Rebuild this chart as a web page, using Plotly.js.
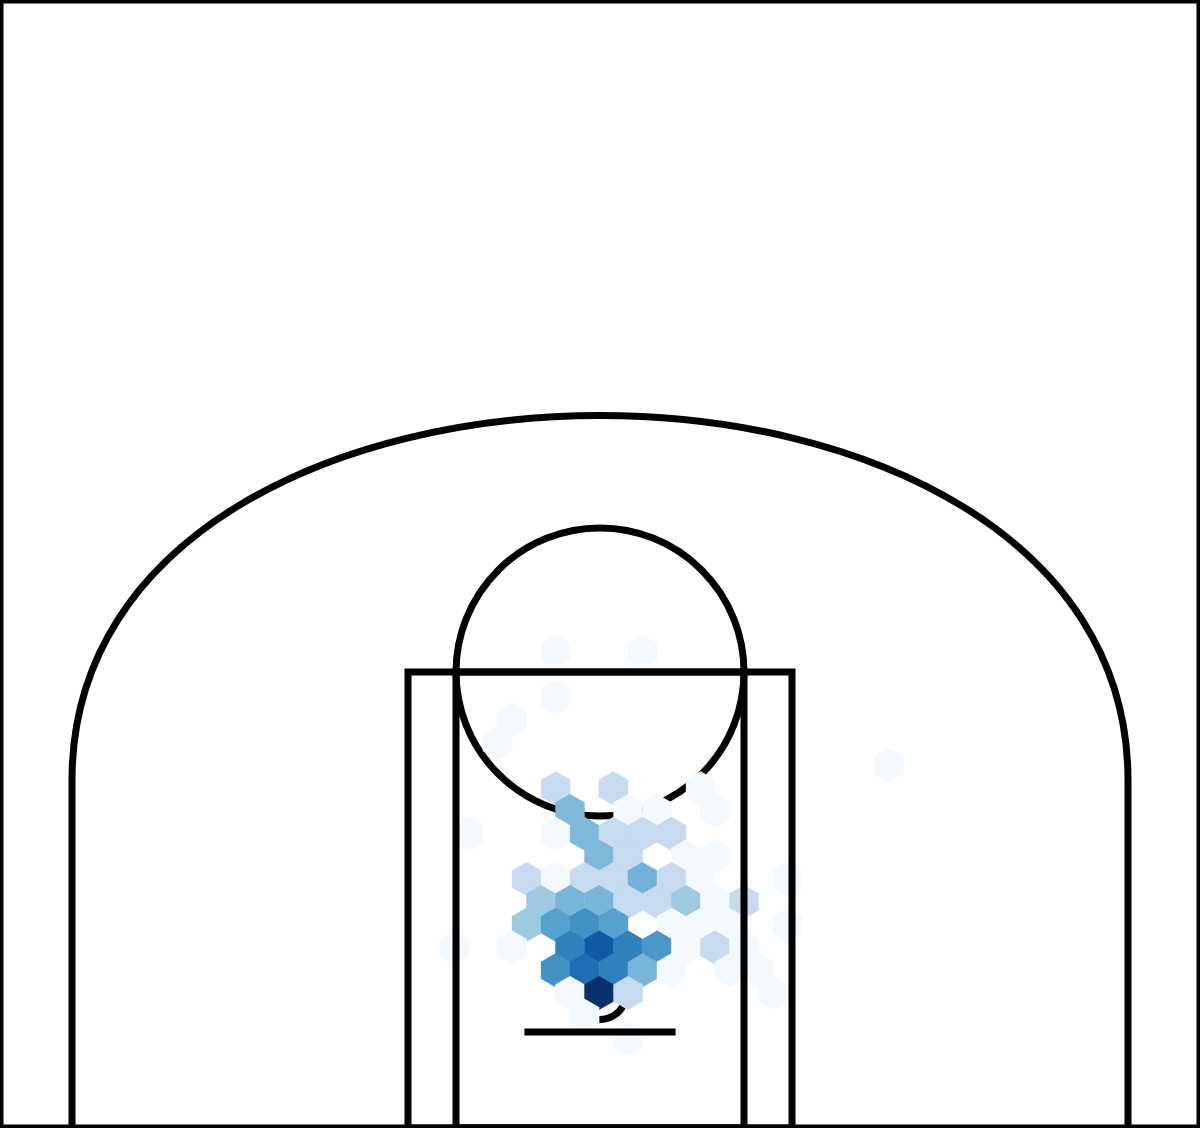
<!DOCTYPE html>
<html>
<head>
<meta charset="utf-8">
<script src="https://cdn.plot.ly/plotly-3.0.1.min.js"></script>
<style>html,body{margin:0;padding:0;background:#fff;}#chart{width:1200px;height:1128px;}</style>
</head>
<body>
<div id="chart"></div>
<script>
// Hexbin centres (court units, tenths of feet) and shot frequency
const hexX = [
  -18.5, 17.7,
  -18.5,
  -36.6,
  -42.7,
  120.4,
  -18.5, 5.6, 41.9,
  -12.5, 11.7, 23.8, 47.9,
  -54.8, -18.5, -6.4, 5.6, 17.7, 29.8,
  -0.4, 11.7, 35.8, 47.9,
  -30.6, -18.5, -6.4, 5.6, 17.7, 29.8, 41.9, 78.1,
  -24.6, -12.5, -0.4, 11.7, 23.8, 35.8, 47.9, 60.0,
  -30.6, -18.5, -6.4, 5.6, 29.8, 41.9, 54.0, 78.1,
  -60.8, -36.6, -12.5, -0.4, 11.7, 23.8, 35.8, 47.9, 60.0,
  -18.5, -6.4, 5.6, 17.7, 29.8, 54.0, 66.0,
  -12.5, -0.4, 11.7, 72.1,
  -6.4,
  11.7
];
const hexY = [
  146.0, 146.0,
  127.0,
  117.5,
  108.0,
  98.6,
  89.1, 89.1, 89.1,
  79.6, 79.6, 79.6, 79.6,
  70.1, 70.1, 70.1, 70.1, 70.1, 70.1,
  60.6, 60.6, 60.6, 60.6,
  51.2, 51.2, 51.2, 51.2, 51.2, 51.2, 51.2, 51.2,
  41.7, 41.7, 41.7, 41.7, 41.7, 41.7, 41.7, 41.7,
  32.2, 32.2, 32.2, 32.2, 32.2, 32.2, 32.2, 32.2,
  22.7, 22.7, 22.7, 22.7, 22.7, 22.7, 22.7, 22.7, 22.7,
  13.2, 13.2, 13.2, 13.2, 13.2, 13.2, 13.2,
  3.8, 3.8, 3.8, 3.8,
  -5.7,
  -15.2
];
const hexFreq = [
  0.015, 0.015,
  0.015,
  0.015,
  0.015,
  0.015,
  0.25, 0.25, 0.015,
  0.45, 0.015, 0.015, 0.015,
  0.015, 0.015, 0.45, 0.25, 0.25, 0.25,
  0.45, 0.25, 0.015, 0.015,
  0.25, 0.015, 0.25, 0.25, 0.48, 0.25, 0.015, 0.015,
  0.375, 0.47, 0.47, 0.25, 0.25, 0.375, 0.015, 0.25,
  0.375, 0.56, 0.63, 0.56, 0.015, 0.015, 0.015, 0.015,
  0.015, 0.015, 0.69, 0.84, 0.69, 0.6, 0.015, 0.25, 0.015,
  0.63, 0.76, 0.69, 0.47, 0.015, 0.015, 0.015,
  0.015, 1.0, 0.25, 0.015,
  0.015,
  0.015
];

const blues = [
  [0, '#f7fbff'], [0.125, '#deebf7'], [0.25, '#c6dbef'], [0.375, '#9ecae1'],
  [0.5, '#6baed6'], [0.625, '#4292c6'], [0.75, '#2171b5'], [0.875, '#08519c'], [1, '#08306b']
];

const trace = {
  type: 'scatter',
  mode: 'markers',
  x: hexX,
  y: hexY,
  hoverinfo: 'skip',
  marker: {
    symbol: 'hexagon',
    size: 34,
    color: hexFreq,
    colorscale: blues,
    cmin: 0,
    cmax: 1,
    showscale: false,
    line: {width: 0}
  }
};

const LW = 7;
const lc = '#000000';
const shapes = [
  // outer boundary
  {type: 'rect', x0: -250, y0: -52.5, x1: 250, y1: 417.5, line: {color: lc, width: LW}, layer: 'above'},
  // lanes
  {type: 'rect', x0: -80, y0: -52.5, x1: 80, y1: 137.5, line: {color: lc, width: LW}, layer: 'above'},
  {type: 'rect', x0: -60, y0: -52.5, x1: 60, y1: 137.5, line: {color: lc, width: LW}, layer: 'above'},
  // free-throw circle
  {type: 'circle', x0: -60, y0: 77.5, x1: 60, y1: 197.5, line: {color: lc, width: LW}, layer: 'below'},
  // rim
  {type: 'circle', x0: -11, y0: -7.25, x1: 11, y1: 14.75, line: {color: lc, width: LW}, layer: 'below'},
  // backboard
  {type: 'line', x0: -31.5, y0: -12.5, x1: 31.5, y1: -12.5, line: {color: lc, width: LW}, layer: 'above'},
  // three point line
  {type: 'line', x0: -220, y0: -52.5, x1: -220, y1: 92.5, line: {color: lc, width: LW}, layer: 'above'},
  {type: 'line', x0: 220, y0: -52.5, x1: 220, y1: 92.5, line: {color: lc, width: LW}, layer: 'above'},
  {type: 'path', path: 'M -220 92.5 C -220 295, 220 295, 220 92.5', line: {color: lc, width: LW}, layer: 'below'}
];

const layout = {
  width: 1200,
  height: 1128,
  margin: {l: 0, r: 0, t: 0, b: 0, pad: 0},
  paper_bgcolor: '#ffffff',
  plot_bgcolor: '#ffffff',
  showlegend: false,
  xaxis: {range: [-250, 250], showgrid: false, zeroline: false, showline: false, showticklabels: false, ticks: '', fixedrange: true},
  yaxis: {range: [-52.5, 417.5], showgrid: false, zeroline: false, showline: false, showticklabels: false, ticks: '', fixedrange: true},
  shapes: shapes
};

Plotly.newPlot('chart', [trace], layout, {staticPlot: true, displayModeBar: false});
</script>
</body>
</html>
